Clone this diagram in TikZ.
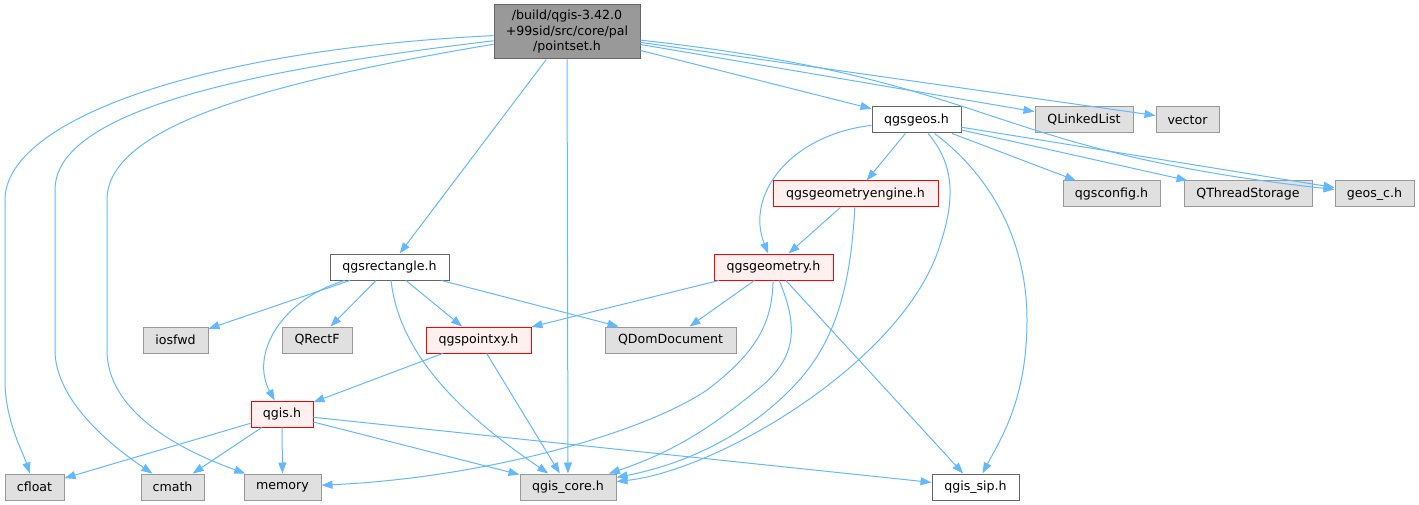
\documentclass[tikz,border=0pt]{standalone}
\usepackage{fontspec}
\setmainfont{DejaVu Sans}
\usetikzlibrary{arrows.meta}
\definecolor{edgeblue}{HTML}{63B8FF}
\definecolor{grayfill}{HTML}{E0E0E0}
\definecolor{grayline}{HTML}{999999}
\definecolor{darkline}{HTML}{666666}
\definecolor{redfill}{HTML}{FFF0F0}
\definecolor{redline}{HTML}{FF0000}
\tikzset{box/.style = {draw, line width = 1, minimum height = 26, inner sep = 0,
                       font = \fontsize{12.6}{15.5}\selectfont}}
\tikzset{ext/.style = {box, fill = grayfill, draw = grayline}}
\tikzset{hdr/.style = {box, fill = white, draw = darkline}}
\tikzset{redhdr/.style = {box, fill = redfill, draw = redline}}
\tikzset{top/.style = {box, fill = grayline, draw = darkline, minimum height = 54, align = center}}
\tikzset{dep/.style = {draw = edgeblue, line width = 1,
                       -{Triangle[length = 11, width = 8, fill = edgeblue]}}}

\begin{document}
\begin{tikzpicture}[x = 1pt, y = -1pt]
      \useasboundingbox (0, 0) rectangle (1419, 505);

      \node [top, minimum width = 146] (root) at (567, 32)
            {/build/qgis-3.42.0\\+99sid/src/core/pal\\/pointset.h};

      \node [hdr, minimum width = 89] (geos) at (916.5, 120) {qgsgeos.h};
      \node [ext, minimum width = 98] (linkedlist) at (1084, 120) {QLinkedList};
      \node [ext, minimum width = 63] (vec) at (1187.5, 120) {vector};

      \node [redhdr, minimum width = 165] (engine) at (855.5, 194) {qgsgeometryengine.h};
      \node [ext, minimum width = 97] (config) at (1111.5, 194) {qgsconfig.h};
      \node [ext, minimum width = 128] (threadstorage) at (1248, 194) {QThreadStorage};
      \node [ext, minimum width = 79] (geosc) at (1374.5, 194) {geos\_c.h};

      \node [hdr, minimum width = 119] (rect) at (389.5, 267) {qgsrectangle.h};
      \node [redhdr, minimum width = 119] (geometry) at (773.5, 267) {qgsgeometry.h};

      \node [ext, minimum width = 65] (iosfwd) at (175.5, 340) {iosfwd};
      \node [ext, minimum width = 70] (qrectf) at (317, 340) {QRectF};
      \node [redhdr, minimum width = 105] (pointxy) at (478.5, 340) {qgspointxy.h};
      \node [ext, minimum width = 131] (domdoc) at (670.5, 340) {QDomDocument};

      \node [redhdr, minimum width = 62] (qgis) at (282, 414) {qgis.h};

      \node [ext, minimum width = 59] (cfloat) at (34.5, 487) {cfloat};
      \node [ext, minimum width = 63] (cmath) at (172.5, 487) {cmath};
      \node [ext, minimum width = 77] (memory) at (282.5, 487) {memory};
      \node [ext, minimum width = 96] (core) at (568, 487) {qgis\_core.h};
      \node [hdr, minimum width = 87] (sip) at (975.5, 487) {qgis\_sip.h};

      % straight includes
      \foreach \a/\b in {root/rect, root/core, root/geos, root/linkedlist, root/vec,
                         geos/engine, geos/config, geos/threadstorage, geos/geosc,
                         engine/geometry, rect/iosfwd, rect/qrectf, rect/pointxy,
                         rect/domdoc, geometry/pointxy, geometry/domdoc, geometry/sip,
                         pointxy/qgis, pointxy/core, qgis/cfloat, qgis/cmath,
                         qgis/memory, qgis/core, qgis/sip}
        \draw [dep] (\a) -- (\b);

      % curved includes
      \draw [dep] (root) .. controls (200, 50) and (5, 120) .. (5, 200)
                  -- (5, 380) .. controls (5, 420) and (22, 450) .. (cfloat);
      \draw [dep] (root) .. controls (250, 70) and (55, 110) .. (55, 190)
                  -- (55, 350) .. controls (55, 400) and (110, 445) .. (cmath);
      \draw [dep] (root) .. controls (250, 85) and (107, 130) .. (107, 200)
                  -- (107, 350) .. controls (107, 410) and (175, 448) .. (memory);
      \draw [dep] (root) .. controls (1000, 80) and (980, 150) .. (geosc);

      \draw [dep] (geos) .. controls (790, 135) and (745, 195) .. (geometry);
      \draw [dep] (geos) .. controls (955, 165) and (955, 200) .. (940, 245)
                  .. controls (905, 360) and (720, 470) .. (core);
      \draw [dep] (geos) .. controls (990, 175) and (1027, 240) .. (1027, 320)
                  .. controls (1027, 400) and (1000, 440) .. (sip);

      \draw [dep] (engine) .. controls (850, 300) and (830, 350) .. (790, 390)
                  .. controls (740, 440) and (680, 465) .. (core);
      \draw [dep] (geometry) .. controls (800, 330) and (795, 360) .. (757, 390)
                  .. controls (720, 420) and (680, 450) .. (core);
      \draw [dep] (geometry) .. controls (772, 320) and (760, 350) .. (707, 390)
                  .. controls (640, 435) and (480, 478) .. (memory);

      \draw [dep] (rect) .. controls (280, 300) and (250, 355) .. (qgis);
      \draw [dep] (rect) .. controls (400, 360) and (470, 420) .. (core);
    \end{tikzpicture}
\end{document}
